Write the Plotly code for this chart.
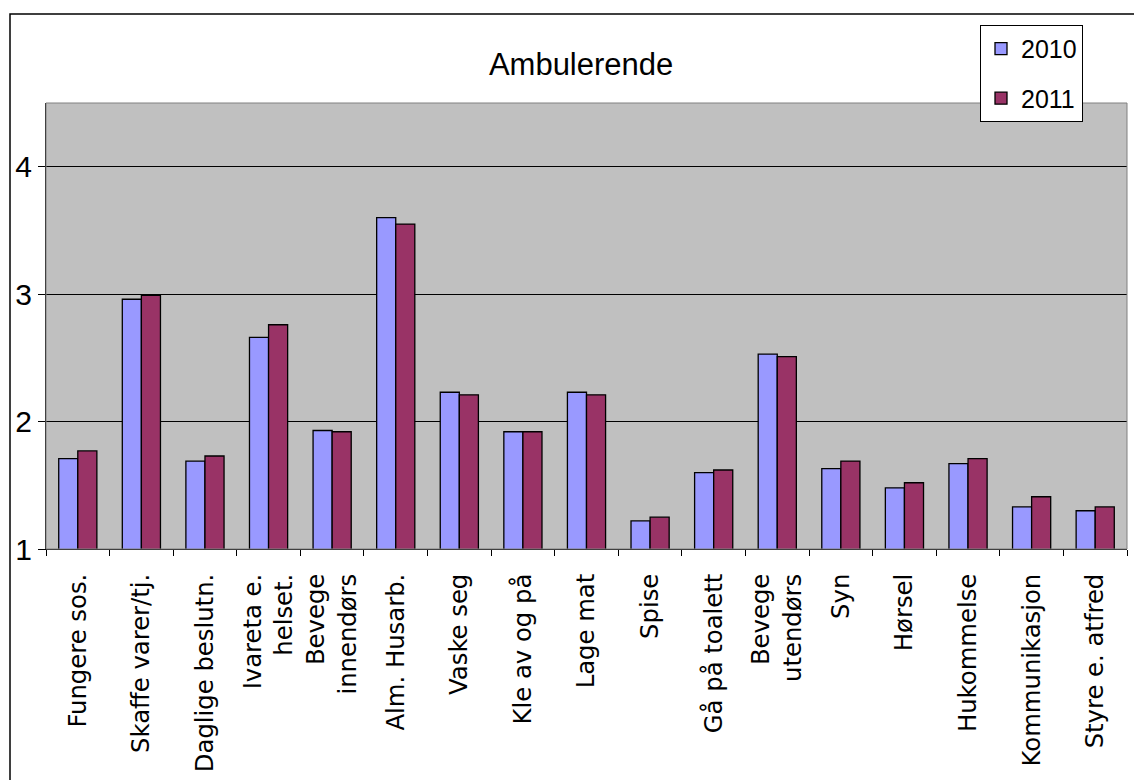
import plotly.graph_objects as go

categories = ["Fungere sos.", "Skaffe varer/tj.", "Daglige beslutn.", "Ivareta e.<br>helset.",
              "Bevege<br>innendørs", "Alm. Husarb.", "Vaske seg", "Kle av og på", "Lage mat",
              "Spise", "Gå på toalett", "Bevege<br>utendørs", "Syn", "Hørsel", "Hukommelse",
              "Kommunikasjon", "Styre e. atfred"]
values_2010 = [1.71, 2.96, 1.69, 2.66, 1.93, 3.60, 2.23, 1.92, 2.23, 1.22, 1.60, 2.53,
               1.63, 1.48, 1.67, 1.33, 1.30]
values_2011 = [1.77, 2.99, 1.73, 2.76, 1.92, 3.55, 2.21, 1.92, 2.21, 1.25, 1.62, 2.51,
               1.69, 1.52, 1.71, 1.41, 1.33]
y_ticks = [1, 2, 3, 4]

SANS = "Liberation Sans, Arial, sans-serif"

fig = go.Figure()
fig.add_trace(go.Bar(x=categories, y=values_2010, name="2010", legendgroup="a",
                     marker=dict(color="#9999FF", line=dict(color="black", width=1.3))))
fig.add_trace(go.Bar(x=categories, y=values_2011, name="2011", legendgroup="b",
                     marker=dict(color="#993366", line=dict(color="black", width=1.3))))

fig.update_layout(
    width=1134, height=780,
    margin=dict(l=46, r=7, t=103, b=231, autoexpand=False),
    paper_bgcolor="white",
    plot_bgcolor="#C0C0C0",
    barmode="group",
    bargap=0.4,
    bargroupgap=0,
    title=dict(text="Ambulerende", x=0.495, xref="paper", xanchor="center",
               y=1 - 64 / 780, yref="container", yanchor="middle",
               font=dict(family=SANS, size=31, color="black")),
    legend=dict(x=(1083 - 46) / 1081, y=1.175, xanchor="right", yanchor="top",
                bgcolor="white", bordercolor="black", borderwidth=1,
                font=dict(family=SANS, size=25, color="black"),
                tracegroupgap=14, itemwidth=30),
    showlegend=True,
)

fig.update_xaxes(
    type="category",
    tickangle=-90,
    ticks="outside", ticklen=6, tickcolor="black", tickwidth=1,
    tickson="boundaries",
    showline=True, linecolor="black", linewidth=1,
    showgrid=False,
    automargin=False,
    tickfont=dict(family="DejaVu Sans", size=24.3, color="black"),
    ticklabelstandoff=14,
)
fig.update_yaxes(
    range=[1, 4.5],
    tickvals=y_ticks,
    ticks="outside", ticklen=7, tickcolor="black", tickwidth=1,
    showline=True, linecolor="black", linewidth=1,
    showgrid=True, gridcolor="black", gridwidth=1,
    zeroline=False,
    automargin=False,
    tickfont=dict(family=SANS, size=30, color="black"),
)

# plot area border (grey) and outer chart frame
fig.add_shape(type="rect", xref="paper", yref="paper", x0=0, x1=1, y0=0, y1=1,
              line=dict(color="#808080", width=1), layer="above")
fig.add_shape(type="rect", xref="paper", yref="paper",
              x0=-36 / 1081, x1=1.02, y0=-0.6, y1=(549 - 14) / 446,
              line=dict(color="black", width=1.5), layer="below")

fig.write_html("out.html")
